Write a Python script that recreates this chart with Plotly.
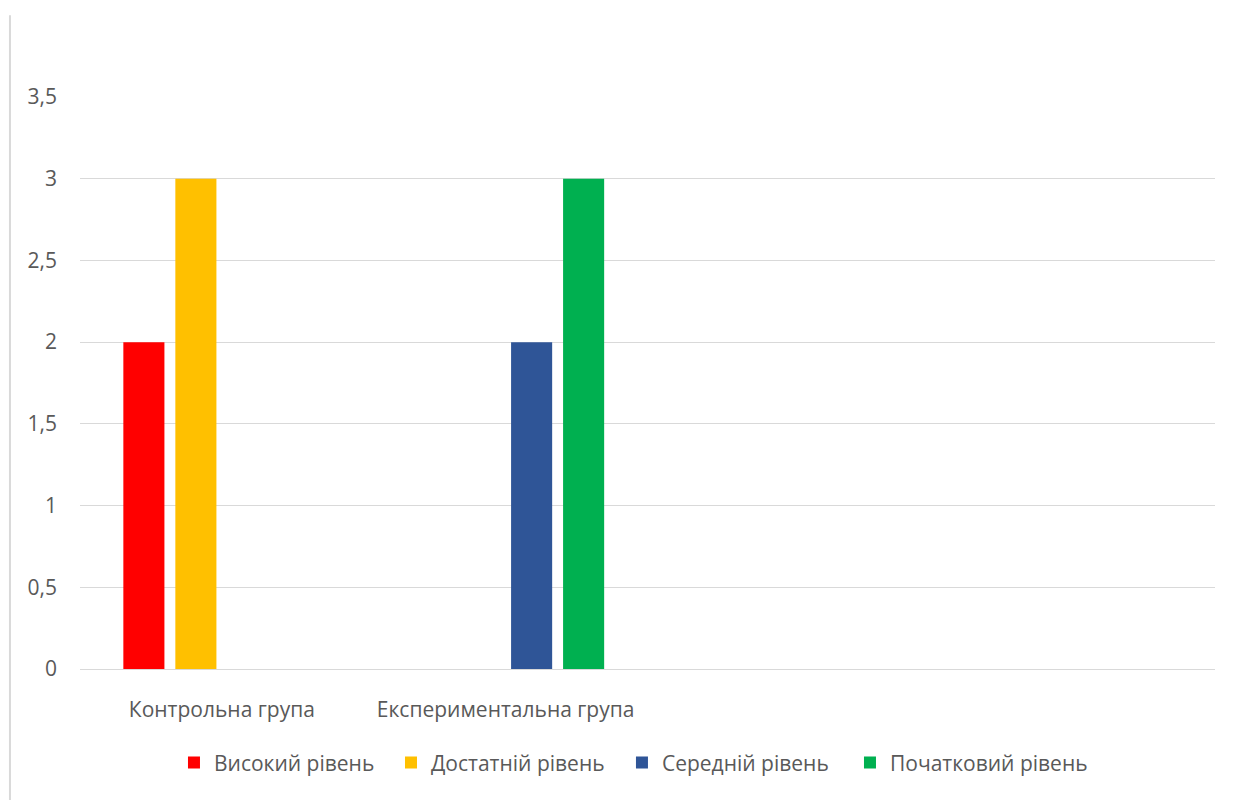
import plotly.graph_objects as go

categories = ["Контрольна група", "Експериментальна група", " ", "  "]
series_names = ["Високий рівень", "Достатній рівень", "Середній рівень", "Початковий рівень"]
vysokyi = [2, None, None, None]
dostatnii = [3, None, None, None]
serednii = [None, 2, None, None]
pochatkovyi = [None, 3, None, None]
colors = ["#FF0000", "#FFC000", "#2F5597", "#00B050"]

legend_ids = ["legend", "legend2", "legend3", "legend4"]
legend_x = [0.0828, 0.274, 0.4775, 0.6784]

fig = go.Figure()
for name, vals, c, lg in zip(series_names, [vysokyi, dostatnii, serednii, pochatkovyi], colors, legend_ids):
    fig.add_trace(go.Bar(x=categories, y=vals, name=name, marker_color=c, marker_line_width=0,
                         legend=lg))

font_family = "Open Sans, Noto Sans, sans-serif"
legend_style = dict(orientation="h", xanchor="left", y=-0.164, yanchor="middle",
                    font=dict(size=21, color="#595959"), itemwidth=30,
                    bgcolor="rgba(0,0,0,0)", borderwidth=0)
fig.update_layout(
    width=1237, height=800,
    margin=dict(l=80, r=22, t=97, b=131),
    paper_bgcolor="white", plot_bgcolor="white",
    separators=", ",
    barmode="group", bargap=0.267, bargroupgap=0.21,
    font=dict(family=font_family, size=21, color="#595959"),
    showlegend=True,
    xaxis=dict(showgrid=False, showline=True, linecolor="#D9D9D9", linewidth=1,
               ticks="", tickfont=dict(size=21, color="#595959"), ticklabelstandoff=22),
    yaxis=dict(range=[0, 3.5], dtick=0.5, tick0=0, showgrid=True, gridcolor="#D9D9D9",
               gridwidth=1, zeroline=False, showline=False, ticks="",
               tickfont=dict(size=21, color="#595959"), ticklabelstandoff=22,
               tickformat=".1~f"),
    shapes=[dict(type="line", xref="paper", yref="paper", x0=-0.0617, x1=-0.0617,
                 y0=1.143, y1=-0.3, line=dict(color="#D9D9D9", width=2))],
)
for lg, lx in zip(legend_ids, legend_x):
    fig.update_layout({lg: dict(legend_style, x=lx)})

fig.write_html("out.html")
